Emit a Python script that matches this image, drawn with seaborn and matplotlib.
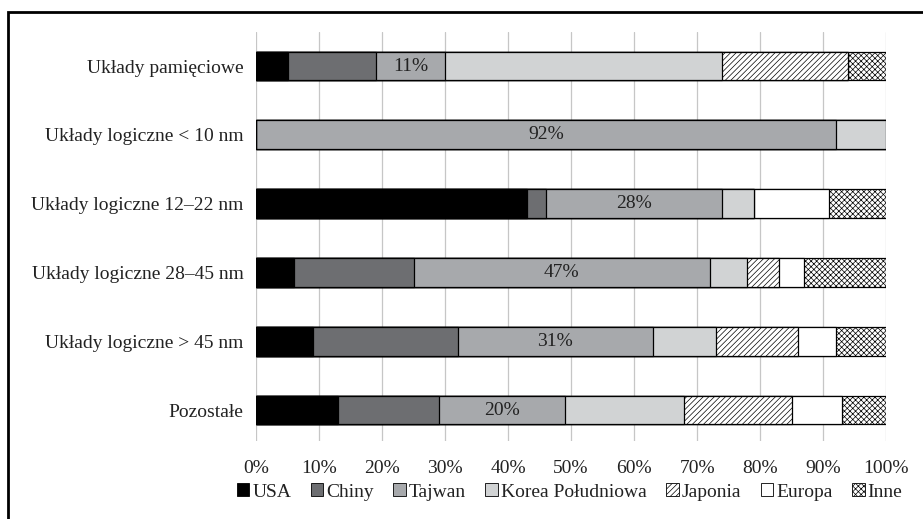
import pandas as pd
import seaborn as sns
import matplotlib.pyplot as plt
from matplotlib.patches import Patch, Rectangle
from matplotlib.ticker import PercentFormatter

categories = ['Układy pamięciowe',
              'Układy logiczne < 10 nm',
              'Układy logiczne 12–22 nm',
              'Układy logiczne 28–45 nm',
              'Układy logiczne > 45 nm',
              'Pozostałe']

usa = [5, 0, 43, 6, 9, 13]
chiny = [14, 0, 3, 19, 23, 16]
tajwan = [11, 92, 28, 47, 31, 20]
korea = [44, 8, 5, 6, 10, 19]
japonia = [20, 0, 0, 5, 13, 17]
europa = [0, 0, 12, 4, 6, 8]
inne = [6, 0, 9, 13, 8, 7]

series_names = ['USA', 'Chiny', 'Tajwan', 'Korea Południowa', 'Japonia', 'Europa', 'Inne']
series_vals = [usa, chiny, tajwan, korea, japonia, europa, inne]
colors = ['#000000', '#6d6e71', '#a7a9ac', '#d1d3d4', '#ffffff', '#ffffff', '#ffffff']
hatches = ['', '', '', '', '//////', '', 'xxxxxx']

sns.set_theme(style='white')
plt.rcParams['font.family'] = ['Liberation Serif', 'DejaVu Serif']
plt.rcParams['hatch.linewidth'] = 0.5

# cumulative table, long format
rows = []
for name, vals in zip(series_names, series_vals):
    for cat, v in zip(categories, vals):
        rows.append({'cat': cat, 'series': name, 'val': v})
df = pd.DataFrame(rows)
df['series'] = pd.Categorical(df['series'], series_names, ordered=True)
df['cat'] = pd.Categorical(df['cat'], categories, ordered=True)
df = df.sort_values(['cat', 'series'])
df['cum'] = df.groupby('cat', observed=True)['val'].cumsum()
df['start'] = df['cum'] - df['val']

fig = plt.figure(figsize=(9.23, 5.19), dpi=100)
ax = fig.add_axes([0.2774, 0.1503, 0.6826, 0.788])

# draw from the last series backwards so earlier ones sit on top
for name, c, h in list(zip(series_names, colors, hatches))[::-1]:
    sub = df[df['series'] == name]
    sns.barplot(data=sub, x='cum', y='cat', order=categories, orient='h',
                color=c, saturation=1, width=0.42, hatch=h,
                edgecolor='black', linewidth=0.9, ax=ax, zorder=3)

# labels on Tajwan segments
tw = df[df['series'] == 'Tajwan']
for i, cat in enumerate(categories):
    r = tw[tw['cat'] == cat].iloc[0]
    ax.text(r['start'] + r['val'] / 2, i, f"{r['val']}%", ha='center', va='center',
            fontsize=14, color='#222222', zorder=5)

ax.set_xlim(0, 100)
ax.set_ylim(5.45, -0.494)
ax.set_xticks(range(0, 101, 10))
ax.xaxis.set_major_formatter(PercentFormatter(decimals=0))
ax.xaxis.grid(True, color='#c6c6c6', linewidth=0.9)
ax.set_axisbelow(True)
for s in ax.spines.values():
    s.set_visible(False)
ax.set_xlabel('')
ax.set_ylabel('')
ax.tick_params(axis='x', length=0, pad=14, labelsize=14, colors='#222222')
ax.tick_params(axis='y', length=0, pad=9, labelsize=14, colors='#222222')

handles = [Patch(facecolor=c, edgecolor='black', hatch=h, linewidth=0.6)
           for c, h in zip(colors, hatches)]
fig.legend(handles, series_names, loc='center', bbox_to_anchor=(0.617, 0.052), ncol=7,
           frameon=False, fontsize=14, handlelength=0.65, handleheight=0.65,
           handletextpad=0.15, columnspacing=1.0, labelcolor='#222222')

fig.add_artist(Rectangle((8 / 923, -0.2), 2, 1.1769, transform=fig.transFigure,
                         fill=False, edgecolor='black', linewidth=2))

fig.savefig('out.png', dpi=100)
